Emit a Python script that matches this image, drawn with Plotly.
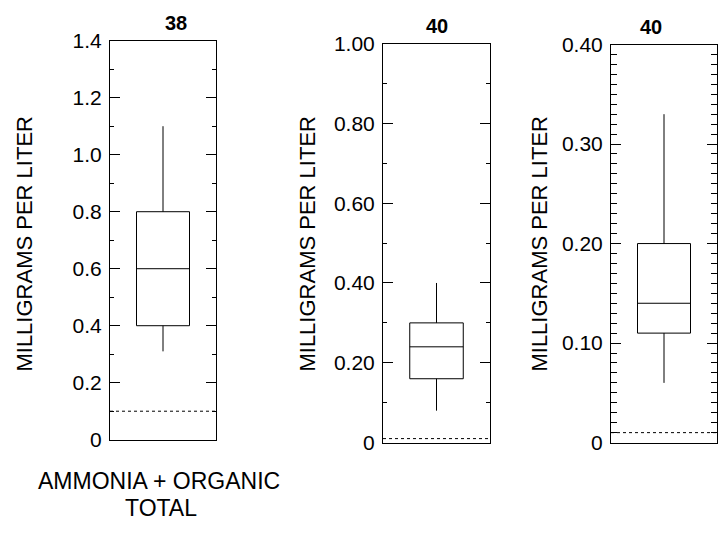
import plotly.graph_objects as go

# ---- data ----
panel_counts = ["38", "40", "40"]
q1 = [0.40, 0.16, 0.11]
median = [0.60, 0.24, 0.14]
q3 = [0.80, 0.30, 0.20]
lower_whisker = [0.31, 0.08, 0.06]
upper_whisker = [1.10, 0.40, 0.33]
reporting_limit = [0.10, 0.01, 0.01]
y_max = [1.4, 1.0, 0.4]
tick_vals_1 = [0, 0.2, 0.4, 0.6, 0.8, 1.0, 1.2, 1.4]
tick_text_1 = ["0", "0.2", "0.4", "0.6", "0.8", "1.0", "1.2", "1.4"]
tick_vals_2 = [0, 0.2, 0.4, 0.6, 0.8, 1.0]
tick_text_2 = ["0", "0.20", "0.40", "0.60", "0.80", "1.00"]
tick_vals_3 = [0, 0.1, 0.2, 0.3, 0.4]
tick_text_3 = ["0", "0.10", "0.20", "0.30", "0.40"]
minor_step = [0.1, 0.1, 0.01]
category_line_1 = "AMMONIA + ORGANIC"
category_line_2 = "TOTAL"
y_title = "MILLIGRAMS PER LITER"

# ---- layout (pixel geometry) ----
W, H = 719, 533
plot_px = [(110, 216, 30, 447), (383, 490, 33, 450), (611, 717, 34, 450)]
ytitle_x = [25, 308, 540]
FONT = "Liberation Sans, Arial, Helvetica, sans-serif"

tick_vals = [tick_vals_1, tick_vals_2, tick_vals_3]
tick_text = [tick_text_1, tick_text_2, tick_text_3]

fig = go.Figure()
shapes = []
annotations = []
for i in range(3):
    n = "" if i == 0 else str(i + 1)
    xa, ya = "x" + n, "y" + n
    fig.add_trace(go.Box(
        x=[0], q1=[q1[i]], median=[median[i]], q3=[q3[i]],
        lowerfence=[lower_whisker[i]], upperfence=[upper_whisker[i]],
        width=0.5, whiskerwidth=0, boxpoints=False,
        line=dict(color="black", width=1), fillcolor="rgba(0,0,0,0)",
        xaxis=xa, yaxis=ya, showlegend=False, hoverinfo="skip"))
    x0, x1, yt, yb = plot_px[i]
    fig.layout["xaxis" + n] = dict(
        domain=[x0 / W, x1 / W], range=[-0.5, 0.5], showticklabels=False,
        showline=True, linecolor="black", linewidth=1, mirror=True,
        showgrid=False, zeroline=False, ticks="", anchor=ya, fixedrange=True)

    # main axis: every small-step tick, labels only at the major values
    nminor = int(round(y_max[i] / minor_step[i]))
    all_vals = [round(k * minor_step[i], 4) for k in range(nminor + 1)]
    labels = []
    for v in all_vals:
        match = [t for tv, t in zip(tick_vals[i], tick_text[i]) if abs(tv - v) < 1e-9]
        labels.append(match[0] if match else "")
    fig.layout["yaxis" + n] = dict(
        domain=[1 - yb / H, 1 - yt / H], range=[0, y_max[i]],
        tickmode="array", tickvals=all_vals, ticktext=labels,
        showline=True, linecolor="black", linewidth=1, mirror="ticks",
        ticks="inside", ticklen=6 if i == 2 else 4, tickcolor="black", tickwidth=1,
        showgrid=False, zeroline=False, anchor=xa, fixedrange=True,
        tickfont=dict(family=FONT, size=21, color="black"),
        ticklabelstandoff=3)
    # overlay axis carrying the long major ticks
    m = str(i + 4)
    fig.layout["yaxis" + m] = dict(
        overlaying=ya, anchor=xa, side="left", range=[0, y_max[i]],
        tickmode="array", tickvals=tick_vals[i],
        showticklabels=False, ticks="inside", ticklen=10,
        tickcolor="black", tickwidth=1, showline=True, linecolor="black",
        linewidth=1, mirror="ticks", showgrid=False, zeroline=False,
        fixedrange=True)
    shapes.append(dict(type="line", xref=xa + " domain", yref=ya,
                       x0=0, x1=1, y0=reporting_limit[i], y1=reporting_limit[i],
                       line=dict(color="black", width=1, dash="dot")))
    annotations.append(dict(text="<b>" + panel_counts[i] + "</b>", xref="paper", yref="paper",
                            x=(x0 + x1) / 2 / W, y=1 - yt / H, yanchor="bottom", yshift=5,
                            showarrow=False, font=dict(family=FONT, size=20, color="black")))
    annotations.append(dict(text=y_title, textangle=-90, xref="paper", yref="paper",
                            x=ytitle_x[i] / W, y=1 - 242 / H,
                            xanchor="center", yanchor="middle", showarrow=False,
                            font=dict(family=FONT, size=22, color="black")))

# invisible traces so the overlay axes are drawn
for i in range(3):
    fig.add_trace(go.Scatter(x=[None], y=[None], xaxis="x" + ("" if i == 0 else str(i + 1)),
                             yaxis="y" + str(i + 4), showlegend=False, hoverinfo="skip"))

annotations.append(dict(text=category_line_1, xref="paper", yref="paper",
                        x=159 / W, y=1 - 490 / H, xanchor="center", yanchor="middle",
                        showarrow=False, font=dict(family=FONT, size=23, color="black")))
annotations.append(dict(text=category_line_2, xref="paper", yref="paper",
                        x=161 / W, y=1 - 518 / H, xanchor="center", yanchor="middle",
                        showarrow=False, font=dict(family=FONT, size=23, color="black")))

fig.update_layout(width=W, height=H, margin=dict(l=0, r=0, t=0, b=0),
                  paper_bgcolor="white", plot_bgcolor="white",
                  shapes=shapes, annotations=annotations)
fig.write_html("out.html")
